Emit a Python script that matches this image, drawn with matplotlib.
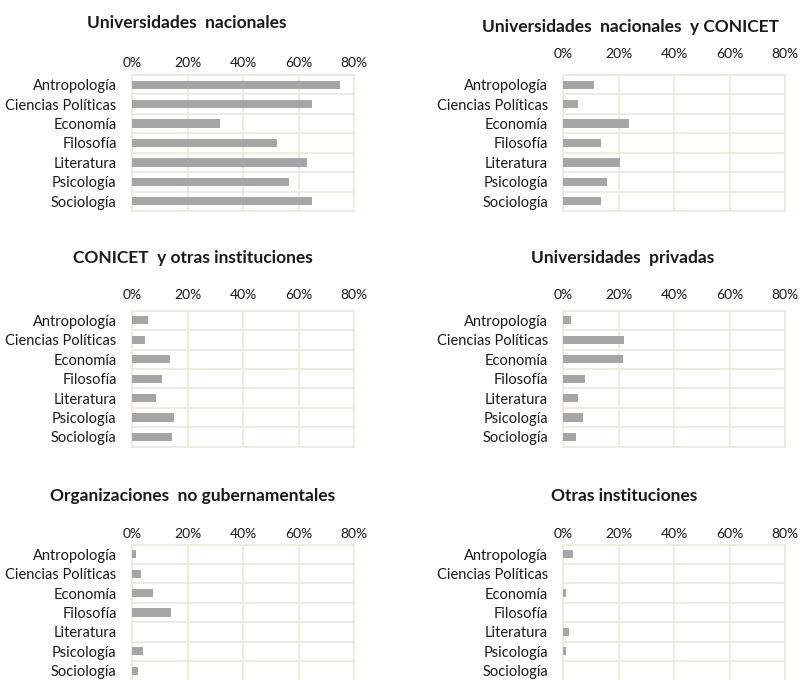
import numpy as np
import matplotlib
matplotlib.use("Agg")
import matplotlib.pyplot as plt

# ------------------------------
# Data

disciplinas = ["Antropología", "Ciencias Políticas", "Economía", "Filosofía",
               "Literatura", "Psicología", "Sociología"]

univ_nacionales = [75.0, 64.7, 31.7, 52.4, 63.0, 56.5, 64.7]
univ_nac_conicet = [11.1, 5.4, 23.7, 13.5, 20.5, 15.7, 13.5]
conicet_otras = [5.9, 4.8, 13.6, 10.8, 8.6, 15.1, 14.4]
univ_privadas = [2.8, 22.0, 21.5, 7.8, 5.3, 7.0, 4.6]
ong = [1.4, 3.1, 7.6, 14.0, 0.0, 4.0, 2.2]
otras_inst = [3.6, 0.0, 0.9, 0.0, 2.0, 0.9, 0.0]

titulos = ["Universidades  nacionales", "Universidades  nacionales  y CONICET",
           "CONICET  y otras instituciones", "Universidades  privadas",
           "Organizaciones  no gubernamentales", "Otras instituciones"]
series = [univ_nacionales, univ_nac_conicet, conicet_otras,
          univ_privadas, ong, otras_inst]
x_ticks = [0, 20, 40, 60, 80]

# ------------------------------
# Layout in pixels (801 x 680)

W, H = 801, 680
plt.rcParams['font.family'] = ['Lato', 'DejaVu Sans']

fig = plt.figure(figsize=(W / 100, H / 100), dpi=100)
fig.patch.set_facecolor("white")

# (left, top, width, height, tick pad, title x, title y)
layout = [
    (132.0, 75.0, 222.0, 136.0, 4.0, 187, 23),
    (563.3, 75.0, 221.7, 136.0, 10.5, 631, 27),
    (132.0, 310.7, 222.0, 136.0, 7.0, 193, 258),
    (563.3, 310.7, 221.7, 136.0, 7.0, 623, 258),
    (132.0, 544.5, 222.0, 136.0, 3.0, 193, 496),
    (563.3, 544.5, 221.7, 136.0, 3.0, 624, 496),
]

grid_col = "#ECE8DA"
bar_col = "#A6A6A6"

for (l, t, w, h, pad, tx, ty), vals, titulo in zip(layout, series, titulos):
    ax = fig.add_axes([l / W, 1 - (t + h) / H, w / W, h / H])
    y = np.arange(len(disciplinas))
    ax.barh(y, vals, height=0.42, color=bar_col, zorder=3)
    ax.set_xlim(0, 80)
    ax.set_ylim(len(disciplinas) - 0.5, -0.5)
    ax.set_yticks(y)
    ax.set_yticklabels(disciplinas, fontsize=10.5, color="#1a1a1a")
    ax.set_yticks(np.arange(-0.5, len(disciplinas)), minor=True)
    ax.set_xticks(x_ticks)
    ax.set_xticklabels([f"{v}%" for v in x_ticks], fontsize=10, color="#1a1a1a")
    ax.xaxis.tick_top()
    ax.tick_params(axis="x", which="both", length=0, pad=pad)
    ax.tick_params(axis="y", which="both", length=0, pad=11)
    ax.grid(axis="x", which="major", color=grid_col, linewidth=1.2, zorder=0)
    ax.grid(axis="y", which="minor", color=grid_col, linewidth=1.2, zorder=0)
    for spine in ax.spines.values():
        spine.set_color(grid_col)
        spine.set_linewidth(1.2)
    fig.text(tx / W, 1 - ty / H, titulo, ha="center", va="center",
             fontsize=12.5, fontweight="bold", color="#1a1a1a")

fig.savefig("out.png", dpi=100)
